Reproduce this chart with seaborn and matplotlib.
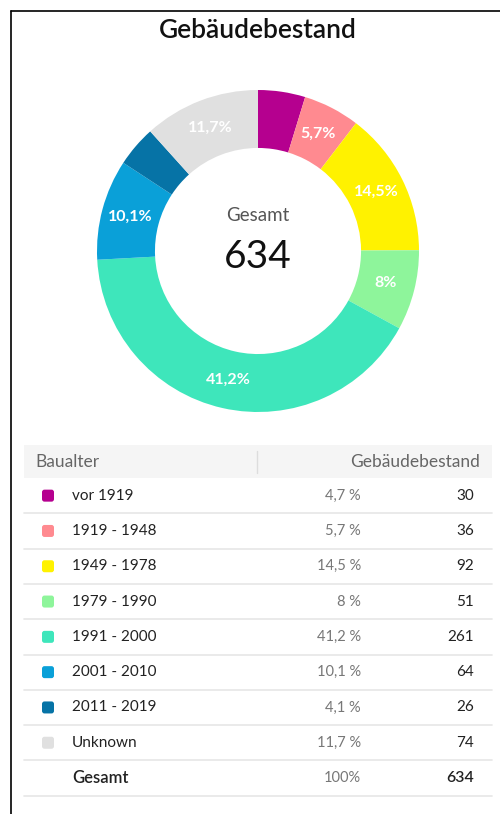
import matplotlib
matplotlib.use("Agg")
import matplotlib.pyplot as plt
from matplotlib.patches import FancyBboxPatch, Rectangle
import seaborn as sns
import numpy as np

# Daten
baualter = ["vor 1919", "1919 - 1948", "1949 - 1978", "1979 - 1990",
            "1991 - 2000", "2001 - 2010", "2011 - 2019", "Unknown"]
bestand = [30, 36, 92, 51, 261, 64, 26, 74]
anteil = [4.7, 5.7, 14.5, 8, 41.2, 10.1, 4.1, 11.7]
farben = ["#b5008f", "#ff8a90", "#fff200", "#8ef59b",
          "#3ee6bb", "#0aa0d8", "#0673a6", "#e0e0e0"]
gesamt = 634

sns.set_theme(style="white")
plt.rcParams["font.family"] = ["Lato", "DejaVu Sans"]


def fmt(v):
    return ("%g" % v).replace(".", ",")


fig = plt.figure(figsize=(5, 8.14), dpi=100)
W, H = 500, 814

# Hintergrund-Achse in Pixelkoordinaten
bg = fig.add_axes([0, 0, 1, 1])
bg.set_xlim(0, W)
bg.set_ylim(H, 0)
bg.axis("off")

# Rahmen oben/links
bg.plot([11, W], [11, 11], color="black", lw=1.2)
bg.plot([11, 11], [11, H], color="black", lw=1.2)

bg.text(258, 30, "Gebäudebestand", ha="center", va="center",
        fontsize=19, fontweight="semibold", color="#111111")

# Donut
cx, cy, R = 258, 251, 161
ax = fig.add_axes([(cx - R) / W, (H - cy - R) / H, 2 * R / W, 2 * R / H])
wedges, _ = ax.pie(bestand, colors=farben, startangle=90, counterclock=False,
                   radius=1, wedgeprops=dict(width=0.36, linewidth=0))
ax.set_xlim(-1, 1)
ax.set_ylim(-1, 1)
ax.set_aspect("auto")
for w, a in zip(wedges, anteil):
    if a < 5:
        continue
    ang = np.deg2rad((w.theta1 + w.theta2) / 2)
    r = 0.82
    ax.text(r * np.cos(ang), r * np.sin(ang), fmt(a) + "%", ha="center", va="center",
            fontsize=11.5, fontweight="bold", color="white")

ax.text(0, 0.22, "Gesamt", ha="center", va="center", fontsize=13.5, color="#555555")
ax.text(0, -0.04, str(gesamt), ha="center", va="center", fontsize=28, color="#111111")

# Tabelle
x0, x1 = 24, 492
bg.add_patch(Rectangle((x0, 445), x1 - x0, 33, facecolor="#f5f5f5", edgecolor="none"))
bg.plot([257, 257], [451, 473], color="#dddddd", lw=1)
bg.text(35, 462, "Baualter", ha="left", va="center", fontsize=12.5, color="#666666")
bg.text(480, 462, "Gebäudebestand", ha="right", va="center", fontsize=12.5, color="#666666")

row_h = 35.3
top = 478
for i, (lab, n, a, c) in enumerate(zip(baualter, bestand, anteil, farben)):
    yc = top + row_h * (i + 0.5)
    bg.add_patch(FancyBboxPatch((42, yc - 6), 12, 12,
                                boxstyle="round,pad=0,rounding_size=2.5",
                                facecolor=c, edgecolor="none"))
    bg.text(72, yc, lab, ha="left", va="center", fontsize=11, color="#222222")
    bg.text(361, yc, fmt(a) + " %", ha="right", va="center", fontsize=10.5, color="#777777")
    bg.text(474, yc, str(n), ha="right", va="center", fontsize=11, color="#222222")
    bg.plot([x0, x1], [top + row_h * (i + 1)] * 2, color="#e6e6e6", lw=1.2)

yc = top + row_h * (len(baualter) + 0.5)
bg.text(72, yc, "Gesamt", ha="left", va="center", fontsize=12, fontweight="semibold", color="#222222")
bg.text(361, yc, "100%", ha="right", va="center", fontsize=10.5, color="#777777")
bg.text(474, yc, str(gesamt), ha="right", va="center", fontsize=11.5, fontweight="semibold", color="#222222")
bg.plot([x0, x1], [top + row_h * (len(baualter) + 1)] * 2, color="#e6e6e6", lw=1.2)

fig.savefig("out.png", dpi=100)
